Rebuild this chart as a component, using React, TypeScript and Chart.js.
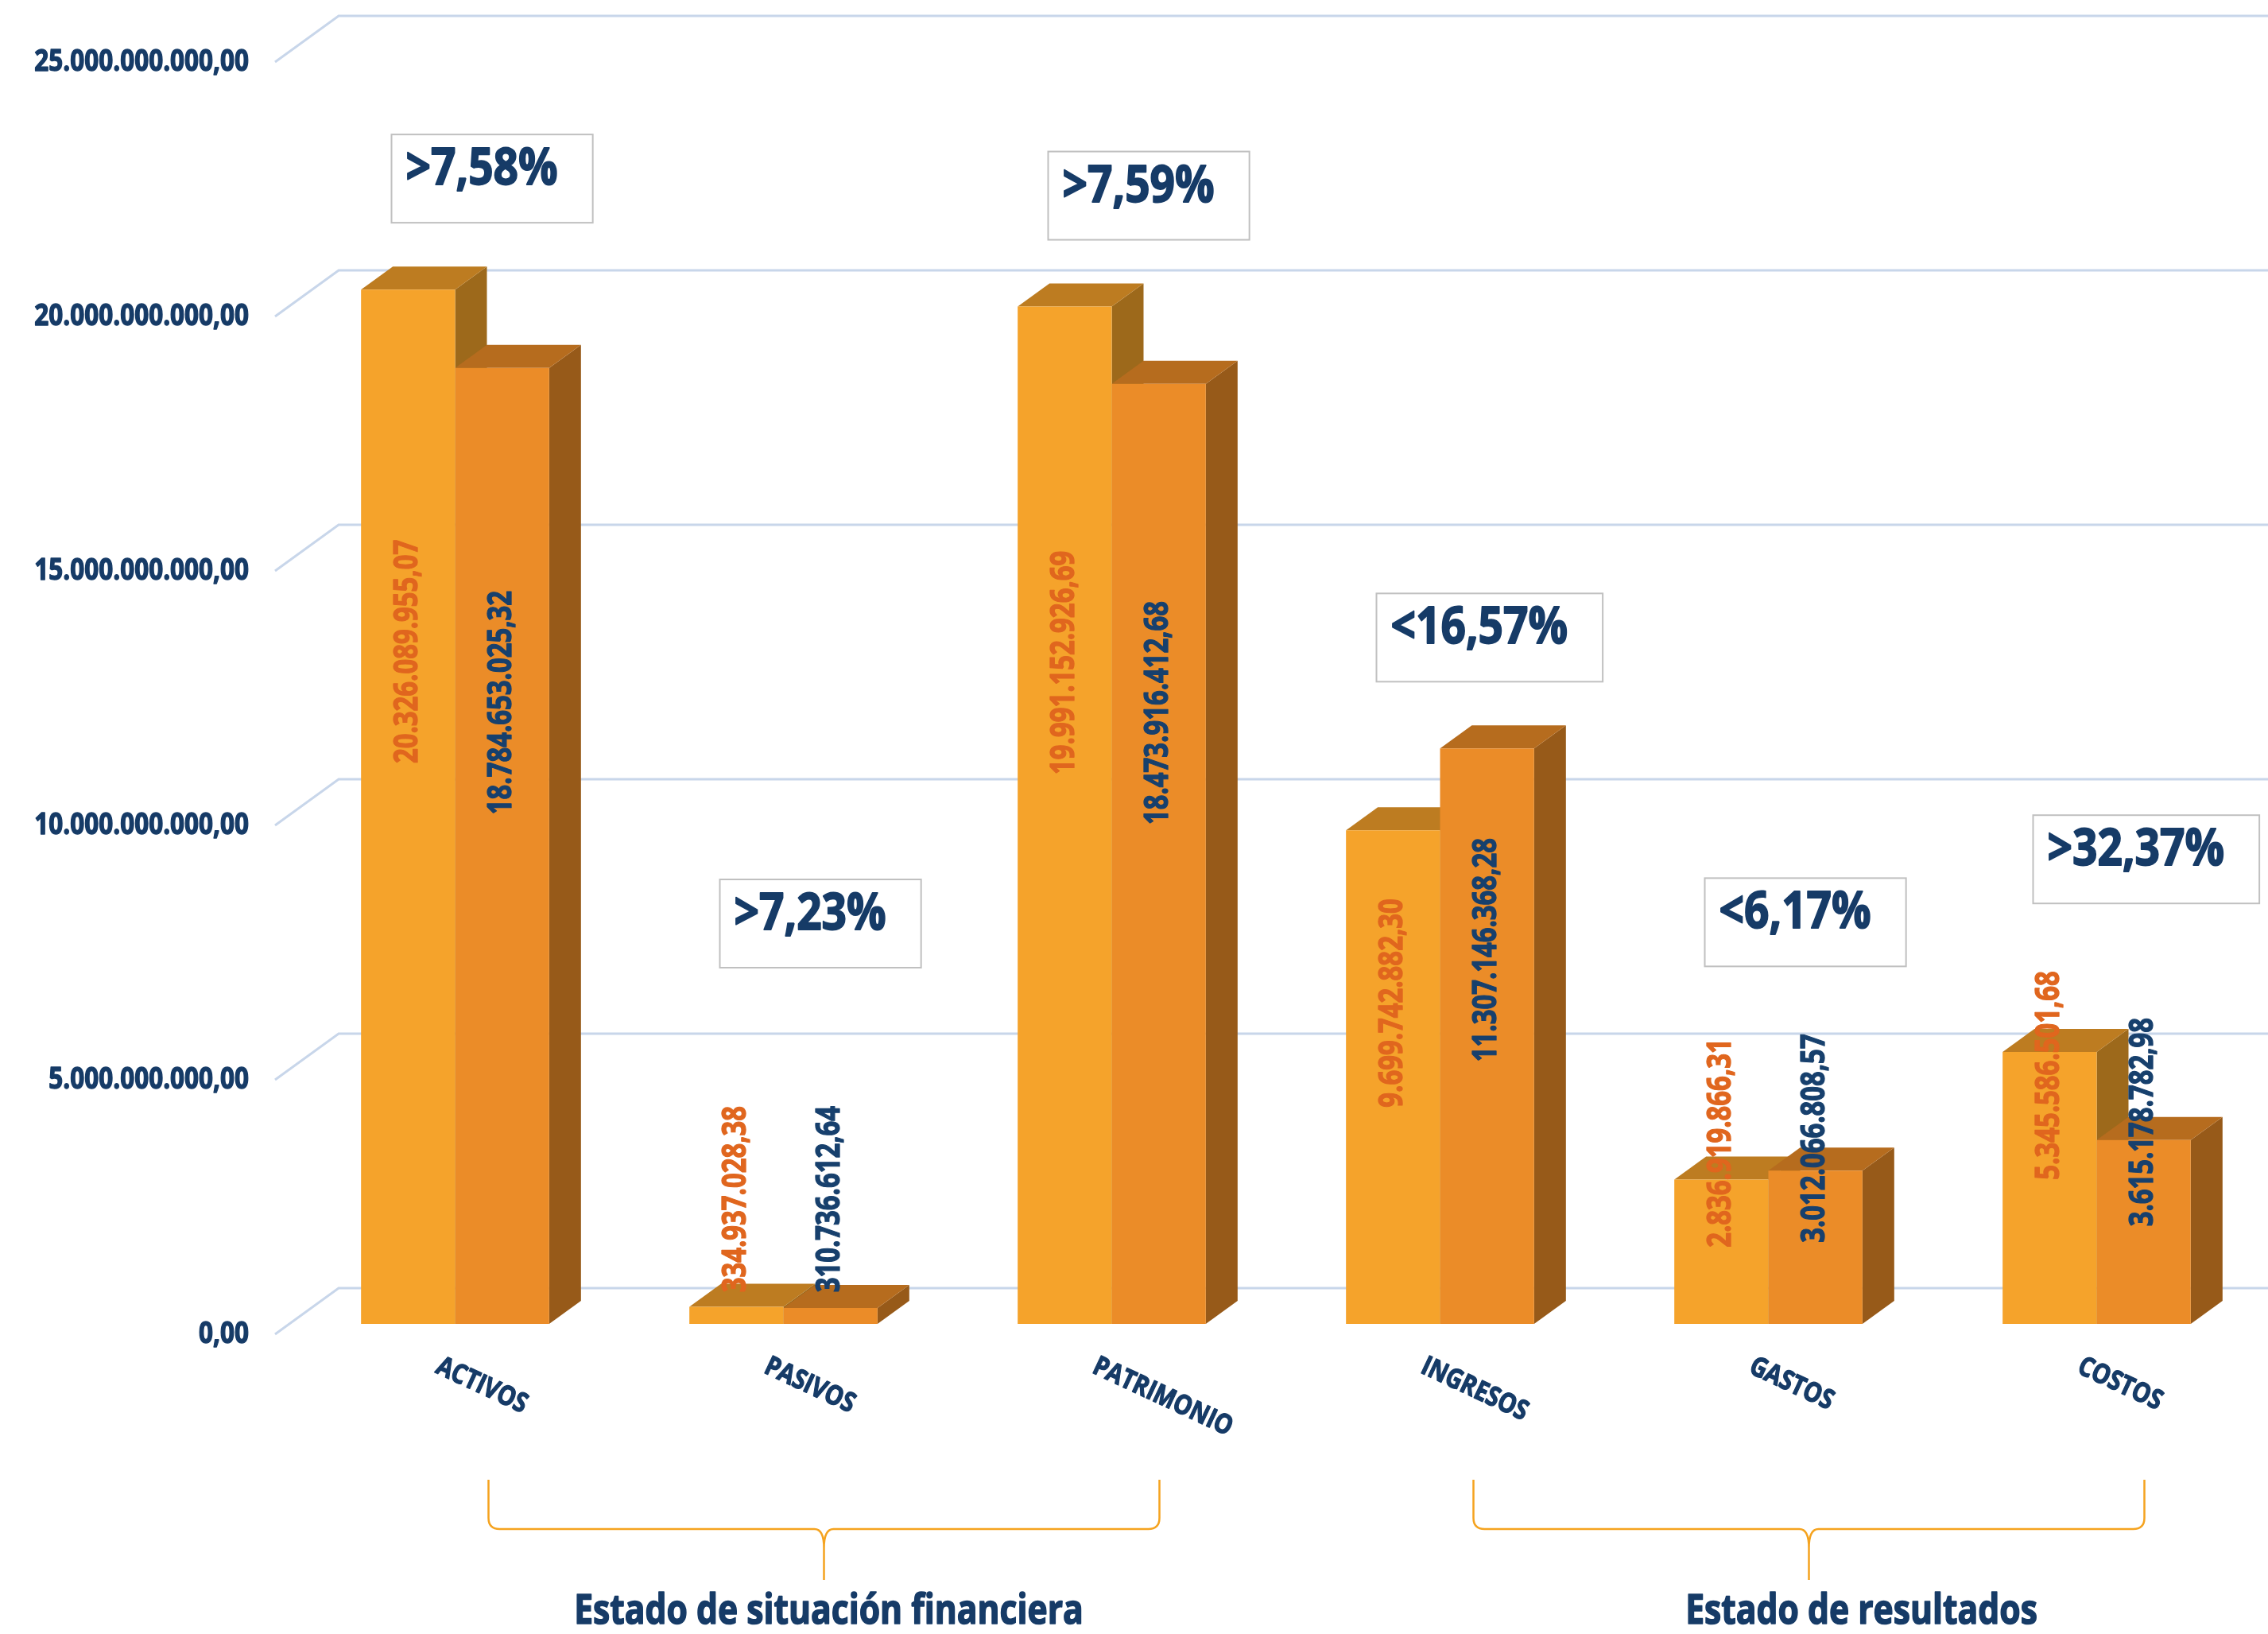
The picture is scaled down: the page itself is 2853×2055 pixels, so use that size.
import React, { useEffect, useRef } from "react";
import { Chart, registerables } from "chart.js";

Chart.register(...registerables);

// ---------- data ----------
const categories = ["ACTIVOS", "PASIVOS", "PATRIMONIO", "INGRESOS", "GASTOS", "COSTOS"];
const seriesA = [20326089955.07, 334937028.38, 19991152926.69, 9699742882.3, 2836919866.31, 5345586501.68];
const seriesB = [18784653025.32, 310736612.64, 18473916412.68, 11307146368.28, 3012066808.57, 3615178782.98];
const changeLabels = [">7,58%", ">7,23%", ">7,59%", "<16,57%", "<6,17%", ">32,37%"];
const yTickValues = [0, 5e9, 10e9, 15e9, 20e9, 25e9];
const groupTitles = ["Estado de situación financiera", "Estado de resultados"];
const groupFirst = [0, 3];
const groupLast = [2, 5];

// ---------- styles ----------
const NAVY = "#163b67";
const FRONT = ["#f5a32b", "#eb8c28"];
const TOPC = ["#bd7c21", "#b66c1e"];
const SIDE = ["#9d691b", "#975a19"];
const LABELC = ["#e0661e", "#17406d"];
const DX = 40;
const DY = 29;

function fmtEs(v: number): string {
  const [i, d] = v.toFixed(2).split(".");
  return i.replace(/\B(?=(\d{3})+(?!\d))/g, ".") + "," + d;
}

function txt(
  ctx: CanvasRenderingContext2D,
  s: string,
  x: number,
  y: number,
  font: string,
  color: string,
  align: CanvasTextAlign,
  baseline: CanvasTextBaseline,
  sx = 1,
  rot = 0,
  stroke = 1.2
) {
  ctx.save();
  ctx.translate(x, y);
  if (rot) ctx.rotate(rot);
  ctx.scale(sx, 1);
  ctx.font = font;
  ctx.fillStyle = color;
  ctx.strokeStyle = color;
  ctx.lineJoin = "round";
  ctx.lineWidth = stroke;
  ctx.textAlign = align;
  ctx.textBaseline = baseline;
  ctx.fillText(s, 0, 0);
  if (stroke > 0) ctx.strokeText(s, 0, 0);
  ctx.restore();
}

const VAL_FONT = '700 41px "Open Sans"';
const VAL_SX = 0.8;

function brace(ctx: CanvasRenderingContext2D, l: number, r: number, top: number, hy: number, tip: number) {
  const cx = (l + r) / 2;
  const rr = 14;
  ctx.beginPath();
  ctx.moveTo(l, top);
  ctx.lineTo(l, hy - rr);
  ctx.quadraticCurveTo(l, hy, l + rr, hy);
  ctx.lineTo(cx - 12, hy);
  ctx.quadraticCurveTo(cx, hy, cx, hy + 24);
  ctx.lineTo(cx, tip);
  ctx.moveTo(r, top);
  ctx.lineTo(r, hy - rr);
  ctx.quadraticCurveTo(r, hy, r - rr, hy);
  ctx.lineTo(cx + 12, hy);
  ctx.quadraticCurveTo(cx, hy, cx, hy + 24);
  ctx.stroke();
}

const threeD = {
  id: "threeD",
  beforeDatasetsDraw(chart: any) {
    const ctx: CanvasRenderingContext2D = chart.ctx;
    const ys = chart.scales.y;
    const area = chart.chartArea;
    ctx.save();
    ctx.strokeStyle = "#c8d6ea";
    ctx.lineWidth = 3;
    for (const v of yTickValues) {
      const p = ys.getPixelForValue(v);
      ctx.beginPath();
      ctx.moveTo(area.left - 20, p + 13);
      ctx.lineTo(area.left + 60, p - 45);
      ctx.lineTo(chart.width, p - 45);
      ctx.stroke();
    }
    chart.data.datasets.forEach((_ds: any, di: number) => {
      const meta = chart.getDatasetMeta(di);
      meta.data.forEach((bar: any) => {
        const { x, y, base, width } = bar.getProps(["x", "y", "base", "width"], true);
        const l = x - width / 2;
        const r = x + width / 2;
        ctx.fillStyle = SIDE[di];
        ctx.beginPath();
        ctx.moveTo(r, y);
        ctx.lineTo(r + DX, y - DY);
        ctx.lineTo(r + DX, base - DY);
        ctx.lineTo(r, base);
        ctx.closePath();
        ctx.fill();
        ctx.fillStyle = TOPC[di];
        ctx.beginPath();
        ctx.moveTo(l, y);
        ctx.lineTo(l + DX, y - DY);
        ctx.lineTo(r + DX, y - DY);
        ctx.lineTo(r, y);
        ctx.closePath();
        ctx.fill();
      });
    });
    ctx.restore();
  },
  afterDatasetsDraw(chart: any) {
    const ctx: CanvasRenderingContext2D = chart.ctx;
    const ys = chart.scales.y;
    const xs = chart.scales.x;
    const area = chart.chartArea;
    const base = ys.getPixelForValue(0);
    const series = [seriesA, seriesB];

    // y axis labels
    for (const v of yTickValues) {
      txt(ctx, fmtEs(v), area.left - 53, ys.getPixelForValue(v) + 13, '700 37px "Open Sans"', NAVY, "right", "middle", 0.85, 0, 1.4);
    }

    // value labels (rotated, reading upward)
    const labelTops: number[][] = [[], []];
    series.forEach((vals, di) => {
      const meta = chart.getDatasetMeta(di);
      vals.forEach((v, i) => {
        const bar = meta.data[i];
        const s = fmtEs(v);
        ctx.save();
        ctx.font = VAL_FONT;
        const len = ctx.measureText(s).width * VAL_SX;
        ctx.restore();
        let y0: number;
        if (v >= 6e9) {
          y0 = ys.getPixelForValue(0.65 * v) + len / 2;
        } else {
          y0 = ys.getPixelForValue(Math.max(0.53 * v, 0.62e9));
        }
        labelTops[di][i] = y0 - len;
        txt(ctx, s, bar.x, y0, VAL_FONT, LABELC[di], "left", "middle", VAL_SX, -Math.PI / 2, 1.3);
      });
    });

    // category labels (start-anchored, slanting down to the right)
    categories.forEach((c, i) => {
      txt(ctx, c, xs.getPixelForValue(i) - 22, base + 52, '700 34px "Open Sans"', NAVY, "left", "middle", 0.85, (25 * Math.PI) / 180, 1.3);
    });

    // percentage boxes
    const PFONT = '700 64px "Open Sans"';
    const PSX = 0.86;
    changeLabels.forEach((s, i) => {
      const b0 = chart.getDatasetMeta(0).data[i];
      const b1 = chart.getDatasetMeta(1).data[i];
      const gx = b0.x + b0.width / 2;
      const topBack = Math.min(b0.y, b1.y) - DY;
      const bottom = Math.min(topBack - 55, labelTops[0][i] - 85, labelTops[1][i] - 85, ys.getPixelForValue(7e9));
      const h = 111;
      const top = bottom - h;
      ctx.save();
      ctx.font = PFONT;
      const w = ctx.measureText(s).width * PSX;
      const left = gx - 80;
      ctx.fillStyle = "#ffffff";
      ctx.fillRect(left, top, w + 62, h);
      ctx.strokeStyle = "#c0c0c0";
      ctx.lineWidth = 2;
      ctx.strokeRect(left, top, w + 62, h);
      ctx.restore();
      txt(ctx, s, left + 18, top + 63, PFONT, NAVY, "left", "alphabetic", PSX, 0, 1.8);
    });

    // braces and group titles
    ctx.save();
    ctx.strokeStyle = "#f5a31f";
    ctx.lineWidth = 2.5;
    groupTitles.forEach((t, g) => {
      const l = xs.getPixelForValue(groupFirst[g]) + 42;
      const r = xs.getPixelForValue(groupLast[g]) + 60;
      brace(ctx, l, r, base + 196, base + 258, base + 322);
      txt(ctx, t, (l + r) / 2 + 6 + g * 60, base + 362, '700 52px "Open Sans"', NAVY, "center", "middle", 0.82, 0, 1.6);
    });
    ctx.restore();
  },
};

export default function App() {
  const ref = useRef<HTMLCanvasElement>(null);
  useEffect(() => {
    document.body.style.margin = "0";
    const chart = new Chart(ref.current as HTMLCanvasElement, {
      type: "bar",
      data: {
        labels: categories,
        datasets: [
          { label: "Actual", data: seriesA, backgroundColor: FRONT[0], borderWidth: 0, barPercentage: 1, categoryPercentage: 0.573 },
          { label: "Anterior", data: seriesB, backgroundColor: FRONT[1], borderWidth: 0, barPercentage: 1, categoryPercentage: 0.573 },
        ],
      },
      options: {
        responsive: false,
        animation: false,
        devicePixelRatio: 1,
        layout: { padding: { left: 366, right: 9, top: 65, bottom: 390 } },
        plugins: { legend: { display: false }, tooltip: { enabled: false }, title: { display: false } },
        scales: {
          x: { display: false, offset: true },
          y: { display: false, min: 0, max: 25e9 },
        },
      },
      plugins: [threeD],
    });
    return () => chart.destroy();
  }, []);
  return (
    <div style={{ position: "fixed", left: 0, top: 0, width: 2853, height: 2055, background: "#ffffff" }}>
      <canvas ref={ref} width={2853} height={2055} style={{ display: "block" }} />
    </div>
  );
}
